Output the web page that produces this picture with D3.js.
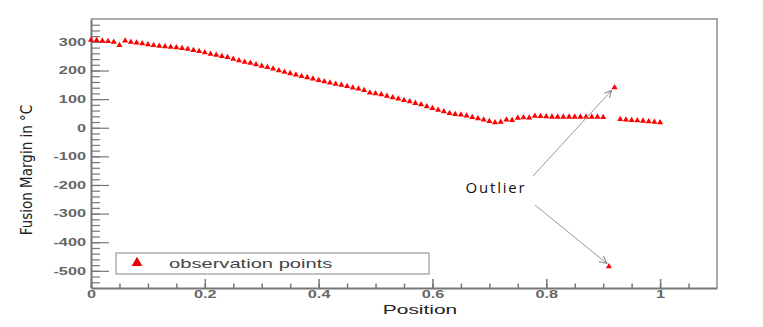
<!DOCTYPE html>
<html>
<head>
<meta charset="utf-8">
<script src="https://cdn.jsdelivr.net/npm/d3@7"></script>
<style>
  body { margin: 0; background: #fff; }
  svg { display: block; }
</style>
</head>
<body>
<div id="chart"></div>
<script>
// positions along the sample (0.00 .. 1.00, step 0.01)
var positions = d3.range(0, 101).map(function(i) { return i / 100; });

// fusion margin, one value per position
var margins = [
  307, 306, 304, 302, 300, 288, 304, 300, 297, 294,
  291, 288, 286, 284, 282, 280, 278, 275, 271, 267,
  263, 258, 254, 250, 246, 240, 235, 230, 226, 221,
  216, 211, 206, 200, 195, 190, 185, 180, 176, 171,
  166, 162, 157, 153, 149, 145, 140, 136, 131, 122,
  120, 116, 111, 106, 101, 96, 92, 86, 81, 74,
  68, 62, 57, 51, 47, 45, 42, 37, 32, 28,
  23, 18, 20, 28, 26, 34, 36, 35, 41, 40,
  39, 38, 38, 38, 38, 38, 38, 38, 38, 38,
  37, -485, 141, 30, 28, 26, 25, 24, 22, 20,
  18
];

var outlierIdx = [92, 91];   // upper, lower
var xTicks = [0, 0.2, 0.4, 0.6, 0.8, 1];
var yTicks = [-500, -400, -300, -200, -100, 0, 100, 200, 300];
var legendLabel = "observation points";
var xTitle = "Position";
var yTitle = "Fusion Margin in \u00B0C";
var noteLabel = "Outlier";

var width = 763, height = 327;
var margin = { top: 19, right: 46, bottom: 39, left: 91 };
var stretch = 1.55;   // the picture is stretched sideways

var svg = d3.select("#chart").append("svg")
  .attr("width", width)
  .attr("height", height);

var defs = svg.append("defs");
defs.append("marker")
  .attr("id", "arrow")
  .attr("viewBox", "0 0 10 10")
  .attr("refX", 9).attr("refY", 5)
  .attr("markerWidth", 9).attr("markerHeight", 9)
  .attr("orient", "auto")
  .append("path")
  .attr("d", "M1,1 L9,5 L1,9")
  .attr("fill", "none")
  .attr("stroke", "#888")
  .attr("stroke-width", 1.2);

var x = d3.scaleLinear().domain([0, 1.1]).range([margin.left, width - margin.right]);
var y = d3.scaleLinear().domain([-560, 380]).range([height - margin.bottom, margin.top]);

// frame top + right
svg.append("path")
  .attr("d", "M" + x(0) + "," + y(380) + "H" + x(1.1) + "V" + y(-560))
  .attr("fill", "none")
  .attr("stroke", "#aaa")
  .attr("stroke-width", 2);

// minor ticks
var g = svg.append("g");
g.append("g")
  .attr("transform", "translate(0," + y(-560) + ")")
  .call(d3.axisTop(x).tickValues(d3.range(0, 1.1, 0.05)).tickSize(4.5).tickFormat(""))
  .call(function(s) { s.select(".domain").remove(); s.selectAll("line").attr("stroke", "#777").attr("stroke-width", 1.5); });
g.append("g")
  .attr("transform", "translate(" + x(0) + ",0)")
  .call(d3.axisRight(y).tickValues(d3.range(-540, 380, 20)).tickSize(9).tickFormat(""))
  .call(function(s) { s.select(".domain").remove(); s.selectAll("line").attr("stroke", "#777").attr("stroke-width", 1.2); });

// major x axis
var xAxis = svg.append("g")
  .attr("transform", "translate(0," + y(-560) + ")")
  .call(d3.axisBottom(x).tickValues(xTicks).tickSizeInner(-9).tickSizeOuter(0).tickPadding(2)
    .tickFormat(function(d) { return d === 0 || d === 1 ? String(d) : d.toFixed(1); }));
xAxis.select(".domain").attr("stroke", "#777").attr("stroke-width", 2);
xAxis.selectAll(".tick line").attr("stroke", "#777").attr("stroke-width", 1.5);
xAxis.selectAll(".tick text")
  .attr("y", 3).attr("dy", "0.71em")
  .attr("transform", "scale(" + stretch + ",1)")
  .style("font-family", "'Liberation Sans', Arial, sans-serif")
  .style("font-size", "10.5px")
  .style("font-weight", "bold")
  .attr("fill", "#666");

// major y axis
var yAxis = svg.append("g")
  .attr("transform", "translate(" + x(0) + ",0)")
  .call(d3.axisLeft(y).tickValues(yTicks).tickSizeInner(-18).tickSizeOuter(0).tickPadding(0)
    .tickFormat(function(d) { return String(d); }));
yAxis.select(".domain").attr("stroke", "#777").attr("stroke-width", 2);
yAxis.selectAll(".tick line").attr("stroke", "#777").attr("stroke-width", 1.2);
yAxis.selectAll(".tick text")
  .attr("x", -5 / stretch)
  .attr("transform", "scale(" + stretch + ",1)")
  .style("font-family", "'Liberation Sans', Arial, sans-serif")
  .style("font-size", "10.5px")
  .style("font-weight", "bold")
  .attr("fill", "#666");

// axis titles
svg.append("text")
  .attr("transform", "translate(" + 420 + "," + 314 + ") scale(" + stretch + ",1)")
  .attr("text-anchor", "middle")
  .style("font-family", "'Liberation Sans', Arial, sans-serif")
  .style("font-size", "13.5px")
  .attr("fill", "#222")
  .text(xTitle);

svg.append("text")
  .attr("transform", "translate(32,170) rotate(-90)")
  .attr("text-anchor", "middle")
  .style("font-family", "'Liberation Sans Narrow', 'DejaVu Sans Condensed', sans-serif")
  .style("font-size", "15px")
  .attr("fill", "#222")
  .text(yTitle);

// points
var tri = d3.symbol().type(d3.symbolTriangle).size(16);
svg.append("g")
  .selectAll("path")
  .data(positions.map(function(p, i) { return [p, margins[i]]; }))
  .join("path")
  .attr("d", tri)
  .attr("transform", function(d) { return "translate(" + x(d[0]) + "," + y(d[1]) + ")"; })
  .attr("fill", "#f00");

// legend
var leg = svg.append("g");
leg.append("rect")
  .attr("x", 116).attr("y", 253)
  .attr("width", 313).attr("height", 21)
  .attr("fill", "#fff")
  .attr("stroke", "#999")
  .attr("stroke-width", 1.2);
leg.append("path")
  .attr("d", d3.symbol().type(d3.symbolTriangle).size(50))
  .attr("transform", "translate(137,263)")
  .attr("fill", "#e00");
leg.append("text")
  .attr("transform", "translate(169,268) scale(" + stretch + ",1)")
  .style("font-family", "'Liberation Sans', Arial, sans-serif")
  .style("font-size", "13px")
  .attr("fill", "#444")
  .text(legendLabel);

// outlier note and arrows
var note = { x: 496, y: 193 };
svg.append("text")
  .attr("x", note.x).attr("y", note.y)
  .attr("text-anchor", "middle")
  .style("font-family", "'Open Sans', sans-serif")
  .style("font-size", "15px")
  .style("letter-spacing", "1.8px")
  .attr("fill", "#111")
  .text(noteLabel);

var starts = [[533, 176], [535, 205]];
var ends = [[-3, 3], [-2, -3]];
svg.append("g")
  .selectAll("line")
  .data(outlierIdx)
  .join("line")
  .attr("x1", function(d, i) { return starts[i][0]; })
  .attr("y1", function(d, i) { return starts[i][1]; })
  .attr("x2", function(d, i) { return x(positions[d]) + ends[i][0]; })
  .attr("y2", function(d, i) { return y(margins[d]) + ends[i][1]; })
  .attr("stroke", "#999")
  .attr("stroke-width", 1)
  .attr("marker-end", "url(#arrow)");
</script>
</body>
</html>
